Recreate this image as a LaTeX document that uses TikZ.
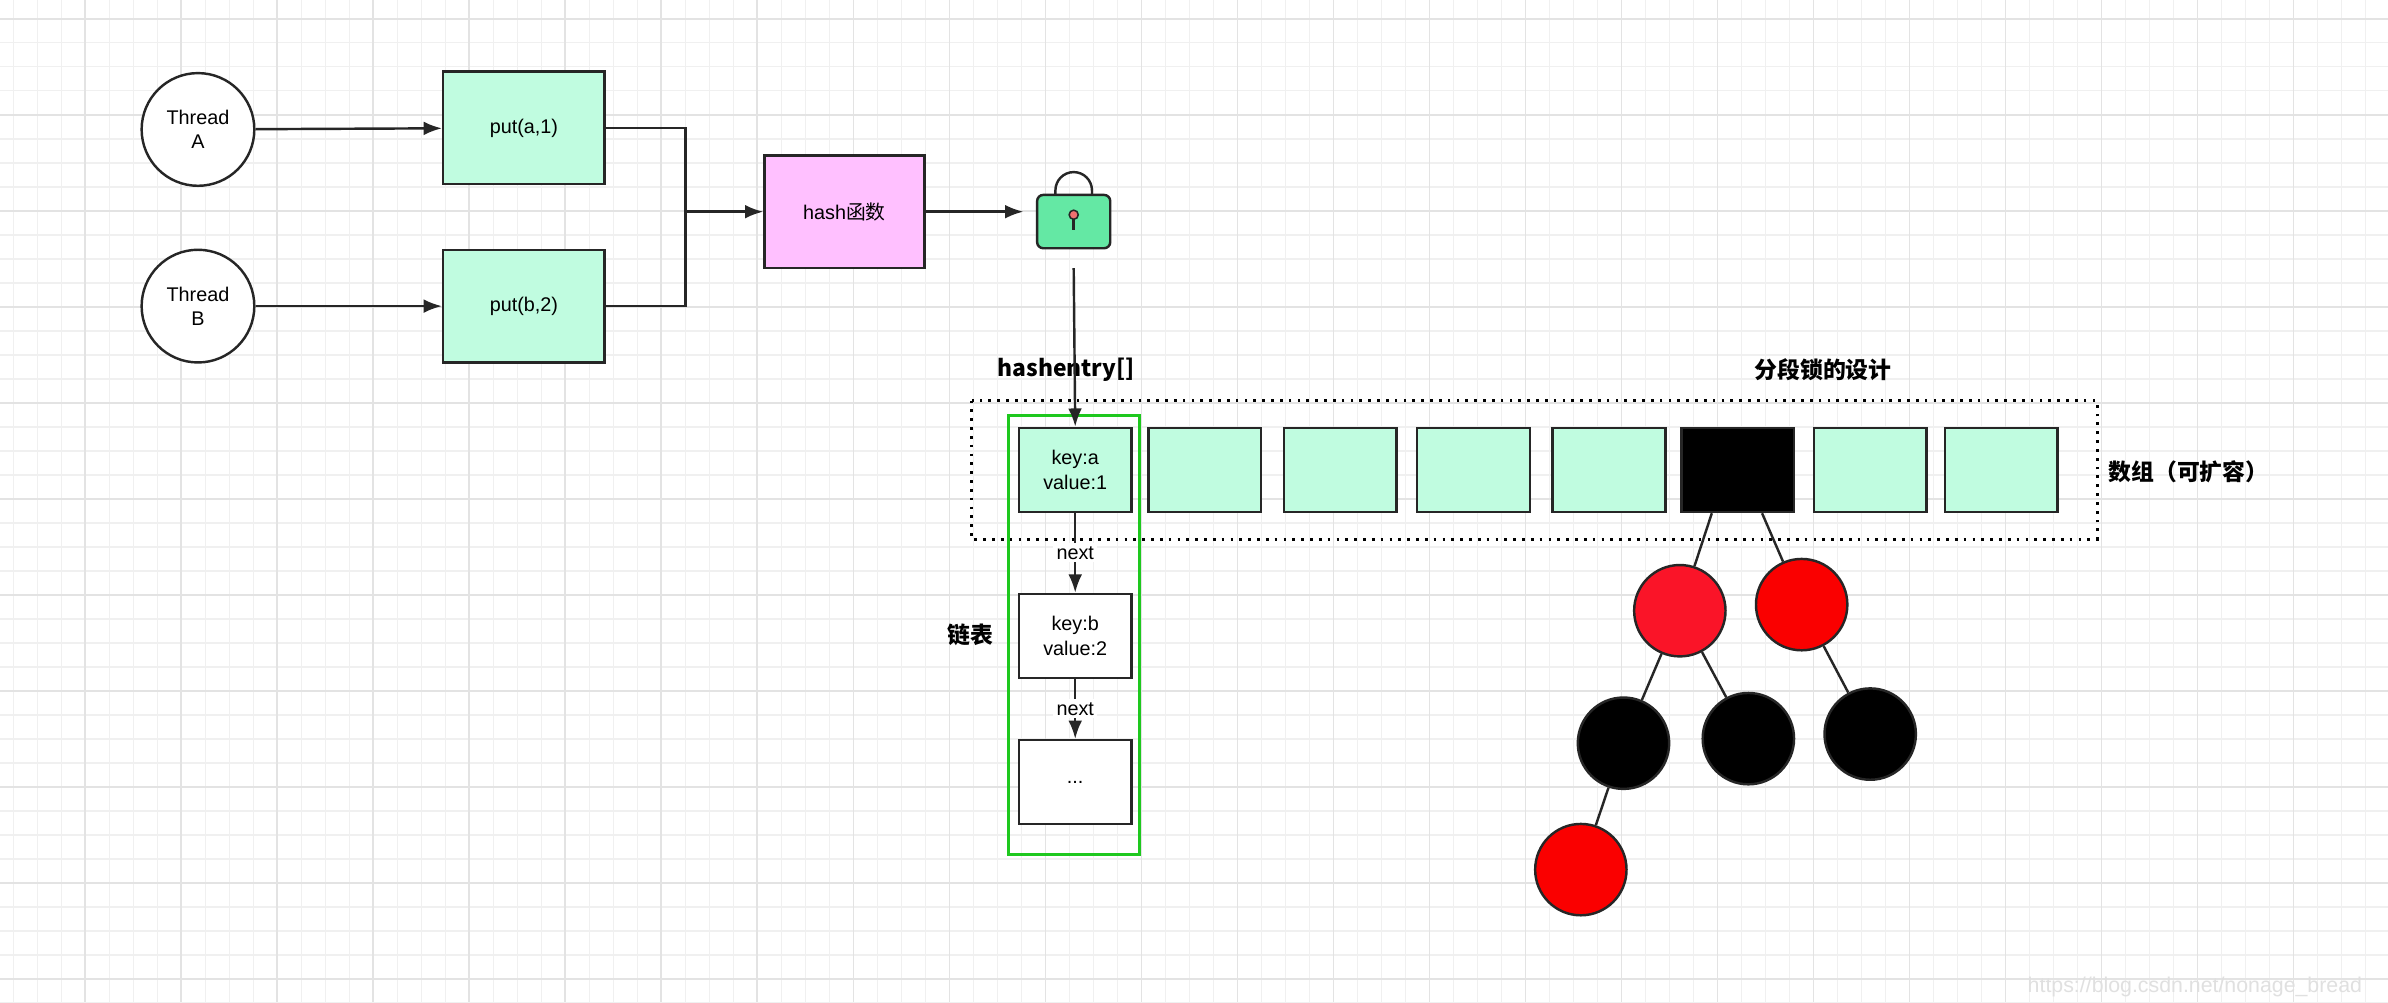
\documentclass[tikz,border=0pt]{standalone}
\usepackage{fontspec}
\usetikzlibrary{arrows.meta}
\setmainfont{Liberation Sans}
\newfontfamily\cjk{Noto Sans CJK SC}
\definecolor{mintc}{RGB}{192,252,224}
\definecolor{pinkc}{RGB}{255,192,255}
\definecolor{lockc}{RGB}{100,232,164}
\definecolor{holec}{RGB}{240,112,112}
\definecolor{grnc}{RGB}{30,200,30}
\definecolor{redA}{RGB}{250,20,40}
\definecolor{redB}{RGB}{250,0,0}
\begin{document}
\begin{tikzpicture}[x=0.5pt,y=-0.5pt,
  >={Latex[length=6pt,width=4.5pt]},
  every node/.style={font=\fontsize{6.5}{8}\selectfont,align=center},
  thr/.style={circle,draw=black!85,line width=0.8pt,fill=white,minimum size=37pt,inner sep=0},
  box/.style={rectangle,draw=black!85,line width=0.8pt,minimum width=37pt,minimum height=37pt,inner sep=0},
  mint/.style={box,fill=mintc},
  cell/.style={box,fill=mintc,minimum height=27.5pt},
  node/.style={circle,draw=black!85,line width=0.8pt,minimum size=30pt,inner sep=0},
  lbl/.style={font=\cjk\bfseries\fontsize{7.5}{9}\selectfont},
  conn/.style={draw=black!85,line width=0.8pt}]
\useasboundingbox (0,0) rectangle (1568,658);
\fill[white] (0,0) rectangle (1568,658);
\foreach \i in {0,...,100} {\draw[black!6,line width=0.4pt] ({-7.1+\i*15.76},0) -- ({-7.1+\i*15.76},658);}
\foreach \i in {0,...,42} {\draw[black!6,line width=0.4pt] (0,{-3.36+\i*15.76}) -- (1568,{-3.36+\i*15.76});}
\foreach \i in {0,...,25} {\draw[black!11,line width=0.5pt] ({-7.1+\i*63.04},0) -- ({-7.1+\i*63.04},658);}
\foreach \i in {0,...,11} {\draw[black!11,line width=0.5pt] (0,{12.4+\i*63.04}) -- (1568,{12.4+\i*63.04});}

\node[thr] (ta) at (130,85) {Thread\\A};
\node[thr] (tb) at (130,201) {Thread\\B};
\node[mint,minimum width=53pt] (pa) at (344,84) {put(a,1)};
\node[mint,minimum width=53pt] (pb) at (344,201) {put(b,2)};
\node[box,fill=pinkc,minimum width=52.5pt] (hash) at (554.5,139) {hash\cjk 函数};
\coordinate (j) at (450,139);
\draw[conn,->] (ta) -- (pa);
\draw[conn,->] (tb) -- (pb);
\draw[conn] (pa.east) -| (j);
\draw[conn] (pb.east) -| (j);
\draw[conn,->] (j) -- (hash);
% lock
\node[rectangle,rounded corners=2pt,draw=black!85,line width=0.8pt,fill=lockc,minimum width=24pt,minimum height=17.5pt,inner sep=0] (lock) at (705,145.5) {};
\draw[black!85,line width=0.8pt] (693,128) -- (693,125) arc[start angle=180,end angle=360,radius=12] -- (717,128);
\draw[black!85,line width=0.8pt] (705,143) -- (705,151);
\filldraw[fill=holec,draw=black!85,line width=0.5pt] (705,141) circle (3);
\coordinate (lockin) at (672,139);
\draw[conn,->] (hash.east) -- (lockin);

\node[lbl] at (700,243) {hashentry[]};
\node[lbl] at (1197,243) {分段锁的设计};
\node[lbl] at (1437,310) {数组（可扩容）};
\node[lbl] at (637,417) {链表};
\draw[black,line width=0.9pt,dotted] (638,263) rectangle (1377,354);
\draw[grnc,line width=0.9pt] (662,273) rectangle (748,561);

\node[cell] (c1) at (706,308.5) {key:a\\value:1};
\coordinate (ltop) at (705,176);
\draw[conn,->] (ltop) -- (c1.north);
\node[cell] (c2) at (791,308.5) {};
\node[cell] (c3) at (880,308.5) {};
\node[cell] (c4) at (967.5,308.5) {};
\node[cell] (c5) at (1056.5,308.5) {};
\node[cell,fill=black] (c6) at (1141,308.5) {};
\node[cell] (c7) at (1228,308.5) {};
\node[cell] (c8) at (1314,308.5) {};
\node[cell,fill=white] (kb) at (706,417.5) {key:b\\value:2};
\node[cell,fill=white] (dots) at (706,513.5) {...};
\draw[conn,->] (c1) -- node[fill=white,inner sep=1pt] {next} (kb);
\draw[conn,->] (kb) -- node[fill=white,inner sep=1pt] {next} (dots);

\node[node,fill=redA] (r1) at (1103,401) {};
\node[node,fill=redB] (r2) at (1183,397) {};
\node[node,fill=black] (b1) at (1066,488) {};
\node[node,fill=black] (b2) at (1148,485) {};
\node[node,fill=black] (b3) at (1228,482) {};
\node[node,fill=redB] (r3) at (1038,571) {};
\coordinate (s1) at (1124,337);
\coordinate (s2) at (1157,337);
\draw[conn] (s1) -- (r1);
\draw[conn] (s2) -- (r2);
\draw[conn] (r1) -- (b1);
\draw[conn] (r1) -- (b2);
\draw[conn] (r2) -- (b3);
\draw[conn] (b1) -- (r3);

\node[text=black!12,anchor=east,font=\fontsize{7}{8}\selectfont] at (1558,648) {https://blog.csdn.net/nonage\_bread};
\end{tikzpicture}
\end{document}
